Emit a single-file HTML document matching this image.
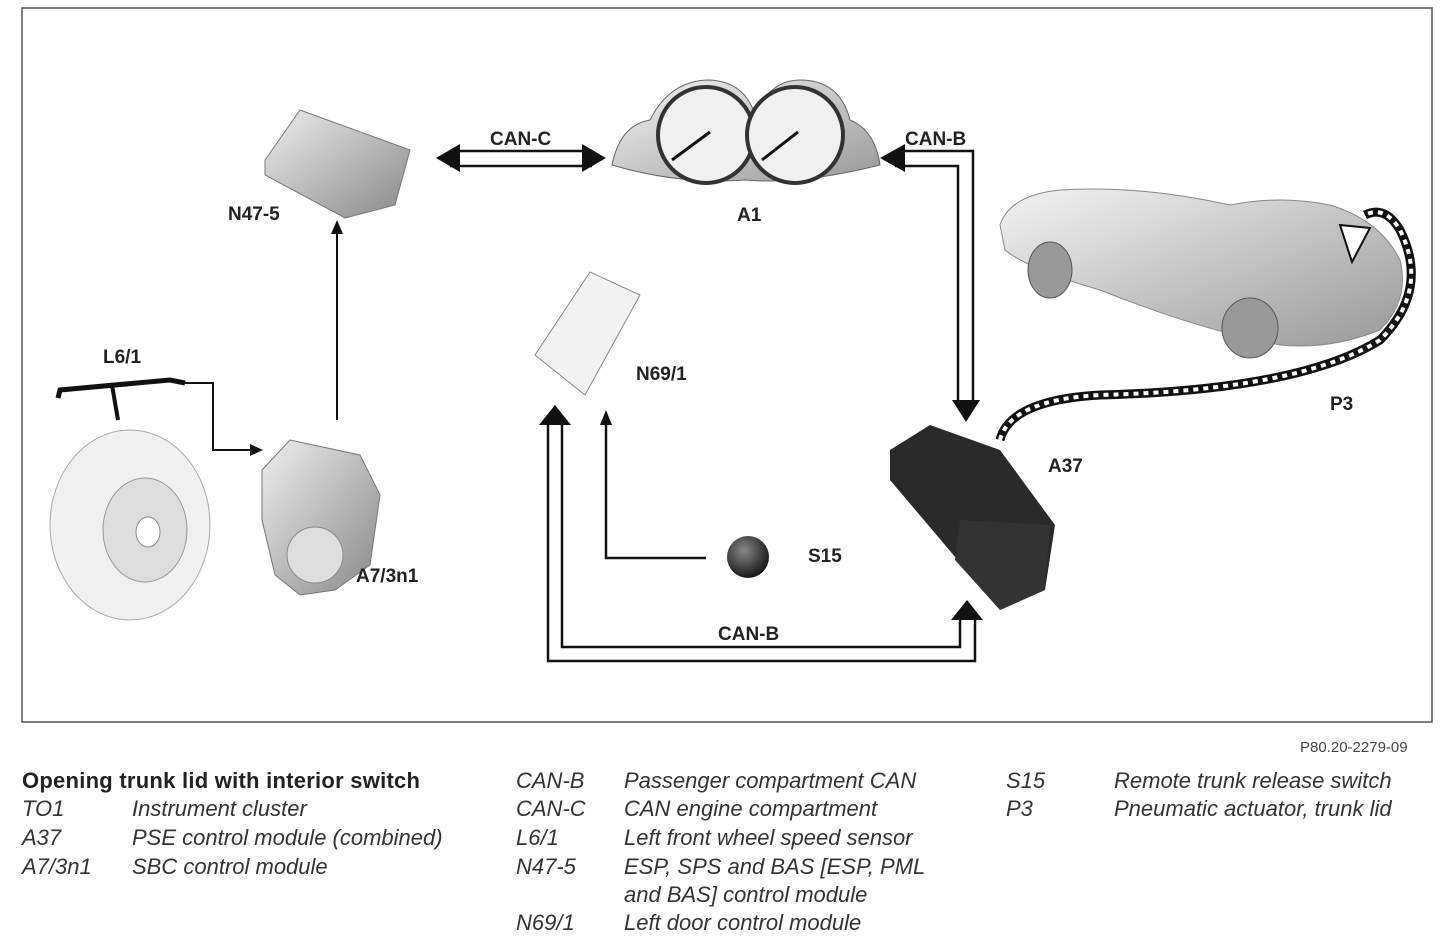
<!DOCTYPE html>
<html><head><style>
body{margin:0;background:#fff;}
svg{display:block;font-family:"Liberation Sans",Arial,sans-serif;}
.l{font-size:19px;font-weight:bold;fill:#222}
.t{font-size:22px;font-style:italic;fill:#333}
</style></head><body>
<svg width="1452" height="942" viewBox="0 0 1452 942">
<rect x="22" y="8" width="1410" height="714" fill="#fff" stroke="#555" stroke-width="1.5"/>
<defs>
<linearGradient id="g1" x1="0" y1="0" x2="1" y2="1"><stop offset="0" stop-color="#eee"/><stop offset="1" stop-color="#888"/></linearGradient>
<radialGradient id="g2" cx="0.4" cy="0.35" r="0.7"><stop offset="0" stop-color="#888"/><stop offset="1" stop-color="#111"/></radialGradient>
<linearGradient id="g3" x1="0" y1="0" x2="1" y2="1"><stop offset="0" stop-color="#f3f3f3"/><stop offset="1" stop-color="#999"/></linearGradient>
</defs>
<!-- N47-5 -->
<polygon points="265,160 300,110 410,150 395,205 345,218 265,175" fill="url(#g1)" stroke="#777"/>
<text class="l" x="228" y="220">N47-5</text>
<!-- A1 cluster -->
<path d="M612,165 Q620,125 650,120 Q670,80 710,80 Q745,82 755,115 Q770,80 800,80 Q840,80 850,120 Q875,130 880,165 Q800,185 745,180 Q680,185 612,165Z" fill="url(#g3)" stroke="#666"/>
<circle cx="706" cy="135" r="48" fill="#f0f0f0" stroke="#333" stroke-width="4"/>
<circle cx="795" cy="135" r="48" fill="#f0f0f0" stroke="#333" stroke-width="4"/>
<line x1="672" y1="160" x2="710" y2="132" stroke="#111" stroke-width="3"/>
<line x1="762" y1="160" x2="798" y2="132" stroke="#111" stroke-width="3"/>
<text class="l" x="737" y="221">A1</text>
<!-- CAN-C -->
<text class="l" x="490" y="145">CAN-C</text>
<line x1="450" y1="151" x2="592" y2="151" stroke="#111" stroke-width="2.5"/>
<line x1="450" y1="166" x2="592" y2="166" stroke="#111" stroke-width="2.5"/>
<polygon points="436,158 460,144 460,172" fill="#111"/>
<polygon points="606,158 582,144 582,172" fill="#111"/>
<!-- CAN-B top -->
<text class="l" x="905" y="145">CAN-B</text>
<polyline points="895,151 973,151 973,405" fill="none" stroke="#111" stroke-width="2.5"/>
<polyline points="895,166 958,166 958,405" fill="none" stroke="#111" stroke-width="2.5"/>
<polygon points="880,158 905,144 905,172" fill="#111"/>
<polygon points="952,400 980,400 966,422" fill="#111"/>
<!-- N69/1 -->
<polygon points="535,355 590,272 640,295 585,395" fill="#f2f2f2" stroke="#888"/>
<text class="l" x="636" y="380">N69/1</text>
<!-- car -->
<path d="M1000,225 Q1010,195 1060,190 Q1140,185 1230,205 Q1280,195 1330,205 Q1380,220 1400,260 Q1410,300 1380,330 Q1330,350 1280,345 Q1200,330 1100,290 Q1030,270 1005,250Z" fill="url(#g3)" stroke="#888"/>
<ellipse cx="1050" cy="270" rx="22" ry="28" fill="#999" stroke="#555"/>
<ellipse cx="1250" cy="328" rx="28" ry="30" fill="#999" stroke="#555"/>
<polygon points="1340,225 1370,228 1352,262" fill="#fff" stroke="#111" stroke-width="2"/>
<path d="M1000,440 Q1010,400 1100,395 Q1300,390 1380,340 Q1430,290 1400,230 Q1385,205 1365,215" fill="none" stroke="#111" stroke-width="9"/>
<path d="M1000,440 Q1010,400 1100,395 Q1300,390 1380,340 Q1430,290 1400,230 Q1385,205 1365,215" fill="none" stroke="#fff" stroke-width="4" stroke-dasharray="5 5"/>
<text class="l" x="1330" y="410">P3</text>
<!-- A37 -->
<polygon points="890,450 930,425 1000,450 1055,525 1045,590 1000,610 890,480" fill="#2a2a2a"/>
<polygon points="960,520 1050,525 1045,590 1000,610 955,560" fill="#333"/>
<text class="l" x="1048" y="472">A37</text>
<!-- L6/1 sensor and disc -->
<text class="l" x="103" y="363">L6/1</text>
<path d="M58,398 L60,390 L170,380 L185,383" fill="none" stroke="#111" stroke-width="5"/>
<line x1="112" y1="385" x2="118" y2="420" stroke="#111" stroke-width="4"/>
<ellipse cx="130" cy="525" rx="80" ry="95" fill="#f0f0f0" stroke="#aaa"/>
<ellipse cx="145" cy="530" rx="42" ry="52" fill="#ddd" stroke="#999"/>
<ellipse cx="148" cy="532" rx="12" ry="15" fill="#fff" stroke="#888"/>
<polyline points="185,383 213,383 213,450 255,450" fill="none" stroke="#111" stroke-width="2"/>
<polygon points="263,450 250,444 250,456" fill="#111"/>
<!-- A7/3n1 -->
<path d="M262,470 L290,440 L360,455 L380,495 L370,565 L335,590 L300,595 L275,575 L262,520Z" fill="url(#g1)" stroke="#777"/>
<circle cx="315" cy="555" r="28" fill="#ddd" stroke="#888"/>
<text class="l" x="356" y="582">A7/3n1</text>
<line x1="337" y1="420" x2="337" y2="232" stroke="#111" stroke-width="2"/>
<polygon points="337,220 331,234 343,234" fill="#111"/>
<!-- S15 -->
<circle cx="748" cy="557" r="21" fill="url(#g2)"/>
<text class="l" x="808" y="562">S15</text>
<polyline points="606,422 606,558 706,558" fill="none" stroke="#111" stroke-width="2.5"/>
<polygon points="606,410 600,425 612,425" fill="#111"/>
<!-- CAN-B bottom -->
<polyline points="548,425 548,661 975,661 975,620" fill="none" stroke="#111" stroke-width="2.5"/>
<polyline points="562,425 562,647 960,647 960,620" fill="none" stroke="#111" stroke-width="2.5"/>
<polygon points="555,405 539,425 571,425" fill="#111"/>
<polygon points="967,600 951,620 983,620" fill="#111"/>
<text class="l" x="718" y="640">CAN-B</text>
<!-- legend -->
<text x="1300" y="752" font-size="15" fill="#444">P80.20-2279-09</text>
<text x="22" y="788" font-size="22" font-weight="bold" fill="#222" textLength="398">Opening trunk lid with interior switch</text>
<text class="t" x="22" y="816">TO1</text><text class="t" x="132" y="816">Instrument cluster</text>
<text class="t" x="22" y="845">A37</text><text class="t" x="132" y="845">PSE control module (combined)</text>
<text class="t" x="22" y="874">A7/3n1</text><text class="t" x="132" y="874">SBC control module</text>
<text class="t" x="516" y="788">CAN-B</text><text class="t" x="624" y="788">Passenger compartment CAN</text>
<text class="t" x="516" y="816">CAN-C</text><text class="t" x="624" y="816">CAN engine compartment</text>
<text class="t" x="516" y="845">L6/1</text><text class="t" x="624" y="845">Left front wheel speed sensor</text>
<text class="t" x="516" y="874">N47-5</text><text class="t" x="624" y="874">ESP, SPS and BAS [ESP, PML</text>
<text class="t" x="624" y="902">and BAS] control module</text>
<text class="t" x="516" y="930">N69/1</text><text class="t" x="624" y="930">Left door control module</text>
<text class="t" x="1006" y="788">S15</text><text class="t" x="1114" y="788">Remote trunk release switch</text>
<text class="t" x="1006" y="816">P3</text><text class="t" x="1114" y="816">Pneumatic actuator, trunk lid</text>
</svg>
</body></html>
